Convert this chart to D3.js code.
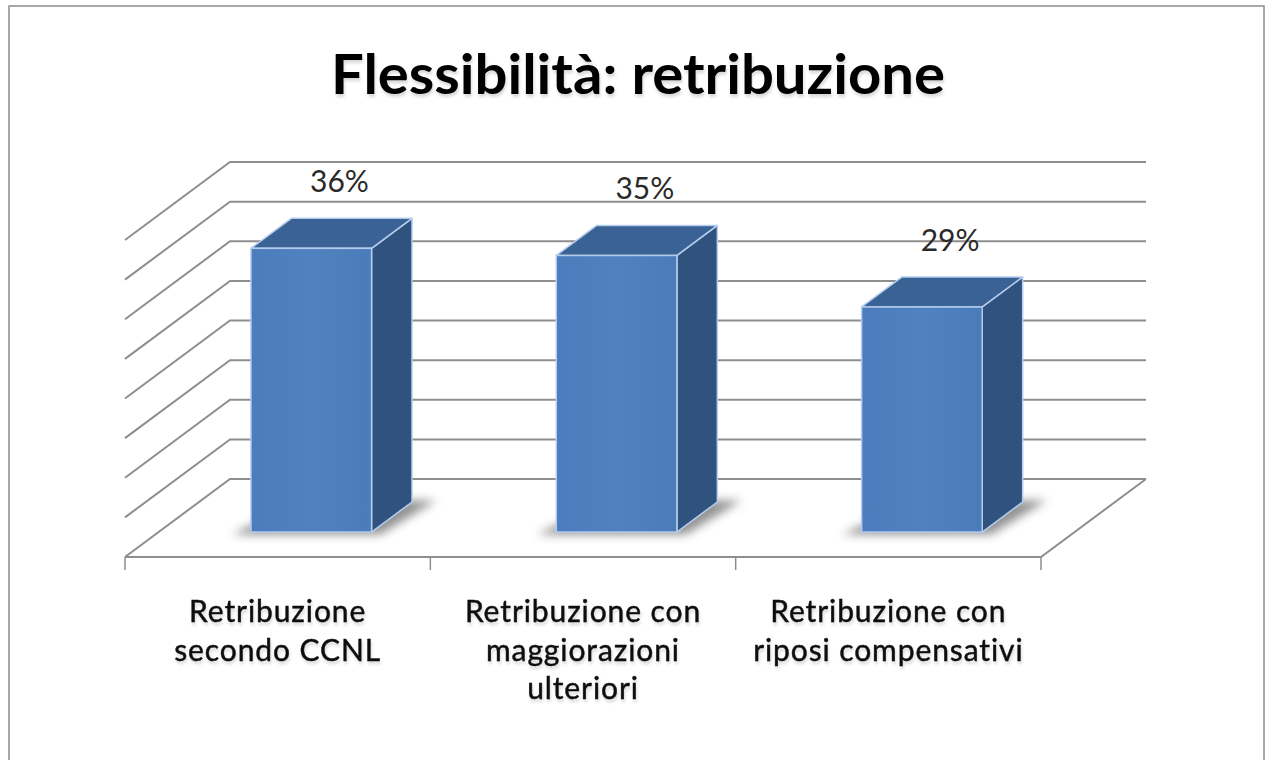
<!DOCTYPE html>
<html><head><meta charset="utf-8">
<script src="https://cdn.jsdelivr.net/npm/d3@7"></script>
<style>html,body{margin:0;padding:0;background:#fff;overflow:hidden;} svg{display:block;}</style>
</head><body>
<script>
// ---- data ----
const title = "Flessibilità: retribuzione";
const categories = ["Retribuzione secondo CCNL", "Retribuzione con maggiorazioni ulteriori", "Retribuzione con riposi compensativi"];
const categoryLines = [["Retribuzione", "secondo CCNL"], ["Retribuzione con", "maggiorazioni", "ulteriori"], ["Retribuzione con", "riposi compensativi"]];
const values = [35.8, 34.9, 28.4];
const valueLabels = ["36%", "35%", "29%"];
const yTicks = [0, 5, 10, 15, 20, 25, 30, 35, 40];

// ---- layout ----
const W = 1267, H = 760;
const DX = 105, DY = -78;          // oblique depth vector (front -> back)
const D0 = 0.32, D1 = 0.705;       // bar depth span
const svg = d3.select("body").append("svg").attr("width", W).attr("height", H);

const defs = svg.append("defs");
const blur = defs.append("filter").attr("id", "blur").attr("x", "-30%").attr("y", "-30%").attr("width", "160%").attr("height", "160%");
blur.append("feGaussianBlur").attr("stdDeviation", 5);
const ts = defs.append("filter").attr("id", "tshadow").attr("x", "-10%").attr("y", "-20%").attr("width", "120%").attr("height", "160%");
ts.append("feDropShadow").attr("dx", 1).attr("dy", 3).attr("stdDeviation", 1.5).attr("flood-color", "#000").attr("flood-opacity", 0.15);
const fg = defs.append("linearGradient").attr("id", "frontGrad").attr("x1", 0).attr("x2", 1).attr("y1", 0).attr("y2", 0);
fg.append("stop").attr("offset", "0%").attr("stop-color", "#4b7cbb");
fg.append("stop").attr("offset", "50%").attr("stop-color", "#5182c0");
fg.append("stop").attr("offset", "100%").attr("stop-color", "#4b7cba");

// frame
svg.append("rect").attr("x", 9).attr("y", 6).attr("width", 1255).attr("height", 780)
  .attr("fill", "#fff").attr("stroke", "#8c8c8c").attr("stroke-width", 1.5);

const x = d3.scaleBand().domain(categories).range([125, 1041]).paddingInner(0).paddingOuter(0);
const y = d3.scaleLinear().domain([0, 40]).range([557, 240]); // front plane
const P = (xf, v, d) => [xf + DX * d, y(v) + DY * d];

const grid = svg.append("g").attr("stroke", "#8e8e8e").attr("stroke-width", 2).attr("fill", "none");
const xL = x.range()[0], xR = x.range()[1];
// back wall gridlines + left wall diagonals
grid.selectAll("path.g").data(yTicks).join("path").attr("class", "g")
  .attr("d", v => d3.line()([P(xL, v, 0), P(xL, v, 1), P(xR, v, 1)]));
// floor front and right edges
grid.append("path").attr("d", d3.line()([P(xL, 0, 0), P(xR, 0, 0), P(xR, 0, 1)]));
// ticks
grid.selectAll("line.t").data(d3.range(categories.length + 1)).join("line").attr("class", "t")
  .attr("x1", i => xL + i * x.step()).attr("x2", i => xL + i * x.step())
  .attr("y1", y(0)).attr("y2", y(0) + 13).attr("stroke-width", 1.5);

// bars
const barW = x.bandwidth() * 0.395;
const bars = svg.append("g");
values.forEach((v, i) => {
  const cx = x(categories[i]) + x.bandwidth() / 2;
  const l = cx - barW / 2, r = cx + barW / 2;
  const g = bars.append("g");
  // shadow on floor
  g.append("path").attr("filter", "url(#blur)").attr("fill", "#6e6e6e").attr("opacity", 0.75)
    .attr("d", d3.line()([P(l - 16, 0, D0 - 0.03), P(r + 12, 0, D0 - 0.03), P(r + 22, 0, D1 + 0.02), P(l + 10, 0, D1 + 0.02)]) + "Z");
  // side
  g.append("path").attr("fill", "#30527f").attr("stroke", "#b4cdee").attr("stroke-width", 1.5).attr("stroke-linejoin", "round")
    .attr("d", d3.line()([P(r, 0, D0), P(r, 0, D1), P(r, v, D1), P(r, v, D0)]) + "Z");
  // top
  g.append("path").attr("fill", "#3a6294").attr("stroke", "#b4cdee").attr("stroke-width", 1.5).attr("stroke-linejoin", "round")
    .attr("d", d3.line()([P(l, v, D0), P(r, v, D0), P(r, v, D1), P(l, v, D1)]) + "Z");
  // front
  const a = P(l, v, D0), b = P(r, 0, D0);
  g.append("rect").attr("x", a[0]).attr("y", a[1]).attr("width", b[0] - a[0]).attr("height", b[1] - a[1])
    .attr("fill", "url(#frontGrad)").attr("stroke", "#b4cdee").attr("stroke-width", 1.5);
  // value label
  const tc = P(cx, v, (D0 + D1) / 2);
  svg.append("text").attr("x", tc[0] + 8).attr("y", P(cx, v, D0)[1] - 56)
    .attr("text-anchor", "middle").attr("font-family", "Lato, 'Open Sans', sans-serif").attr("font-size", 30)
    .attr("fill", "#2a2a2a").text(valueLabels[i]);
});

// category labels
const cl = svg.append("g").attr("font-family", "Lato, 'Open Sans', sans-serif").attr("font-size", 30)
  .attr("fill", "#111").attr("stroke", "#111").attr("stroke-width", 0.45)
  .attr("text-anchor", "middle").attr("filter", "url(#tshadow)");
categoryLines.forEach((lines, i) => {
  const cx = x(categories[i]) + x.bandwidth() / 2;
  const t = cl.append("text").attr("x", cx).attr("y", 622).style("letter-spacing", "0.9px");
  lines.forEach((s, k) => t.append("tspan").attr("x", cx).attr("y", 622 + k * 38.5).text(s));
});

// title
svg.append("text").attr("x", 638).attr("y", 94).attr("text-anchor", "middle")
  .attr("font-family", "Lato, 'Open Sans', sans-serif").attr("font-weight", "bold").attr("font-size", 56)
  .attr("textLength", 614).attr("lengthAdjust", "spacingAndGlyphs")
  .attr("fill", "#000").attr("filter", "url(#tshadow)").text(title);
</script>
</body></html>
